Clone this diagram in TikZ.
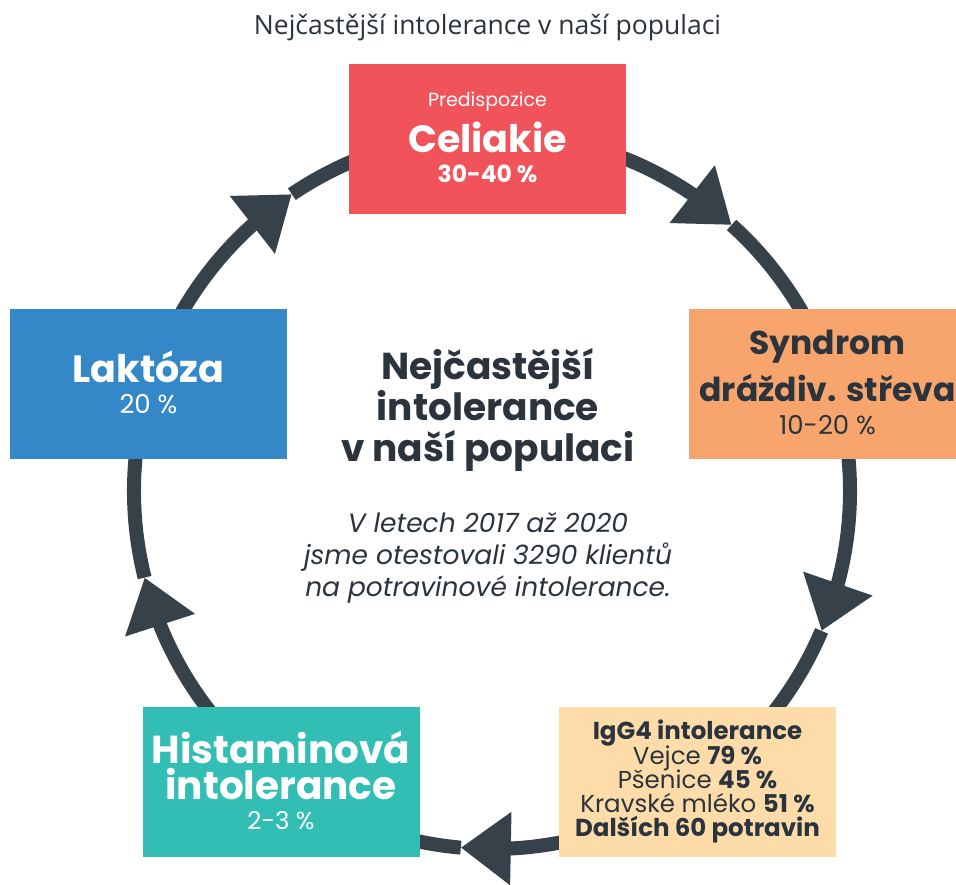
\documentclass[tikz,border=0pt]{standalone}
\usepackage{fontspec}
\setmainfont{Poppins}
\newfontfamily\headfont{Open Sans}
\usetikzlibrary{arrows.meta,bending,positioning}
\lineskiplimit=-50pt

\definecolor{celred}{HTML}{F0545A}
\definecolor{ibsorange}{HTML}{F7A56C}
\definecolor{iggpeach}{HTML}{FDDCA9}
\definecolor{histteal}{HTML}{33BEB5}
\definecolor{lakblue}{HTML}{3488C8}
\definecolor{ringgray}{HTML}{37414A}
\definecolor{textdark}{HTML}{2B343D}

\tikzset{
  ringline/.style={line width=14pt, draw=ringgray, -{Triangle[length=50pt,width=70pt]}},
  tilebox/.style={rectangle, minimum width=277pt, minimum height=150pt, inner sep=0pt},
  tiletext/.style={anchor=base, inner sep=0pt, align=center},
}

\begin{document}
\begin{tikzpicture}[x=1pt,y=1pt]
  \clip (0,0) rectangle (956,885);
  \fill[white] (0,0) rectangle (956,885);

  %Heading
  \node[tiletext, font=\headfont\fontsize{26.5}{30}\selectfont, text=textdark] (heading) at (487.5,850) {Nejčastější intolerance v naší populaci};

  %Ring
  \coordinate (ctr) at (492,394);
  \foreach \a/\b in {124/48,48/-23,-23/-95,-95/-166,-166/-236}
    \draw[ringline] ([shift={(\a:358)}]ctr) arc[start angle=\a, end angle=\b, radius=358];

  %Tiles (multi-line texts sit on their last baseline)
  \node[tilebox, fill=celred] (celiakie) at (487.5,746) {};
  \node[tiletext, font=\fontsize{19}{22}\selectfont, text=white] (celiakie-pre) at ([yshift=32]celiakie.center) {Predispozice};
  \node[tiletext, font=\bfseries\fontsize{38}{44}\selectfont, text=white] (celiakie-name) at ([yshift=-14]celiakie.center) {Celiakie};
  \node[tiletext, font=\bfseries\fontsize{23.5}{26}\selectfont, text=white] (celiakie-pct) at ([yshift=-44]celiakie.center) {30-40 \%};

  \node[tilebox, fill=ibsorange] (syndrom) at (827.5,500.5) {};
  \node[tiletext, font=\bfseries\fontsize{33}{47}\selectfont, text=textdark] (syndrom-name) at ([yshift=-17.5]syndrom.center) {Syndrom\\dráždiv. střeva};
  \node[tiletext, font=\fontsize{26}{28}\selectfont, text=textdark] (syndrom-pct) at ([yshift=-50.5]syndrom.center) {10-20 \%};

  \node[tilebox, fill=iggpeach] (igg) at (697.5,103) {};
  \node[tiletext, font=\fontsize{24.5}{24.3}\selectfont, text=textdark] (igg-list) at ([yshift=-55]igg.center) {\textbf{IgG4 intolerance}\\Vejce \textbf{79 \%}\\Pšenice \textbf{45 \%}\\Kravské mléko \textbf{51 \%}\\\textbf{Dalších 60 potravin}};

  \node[tilebox, fill=histteal] (histamin) at (281,103) {};
  \node[tiletext, font=\bfseries\fontsize{39}{36}\selectfont, text=white] (histamin-name) at ([yshift=-18]histamin.center) {Histaminová\\intolerance};
  \node[tiletext, font=\fontsize{24.5}{26}\selectfont, text=white] (histamin-pct) at ([yshift=-48]histamin.center) {2-3 \%};

  \node[tilebox, fill=lakblue] (laktoza) at (148.5,500.5) {};
  \node[tiletext, font=\bfseries\fontsize{38}{44}\selectfont, text=white] (laktoza-name) at ([yshift=1.5]laktoza.center) {Laktóza};
  \node[tiletext, font=\fontsize{26}{28}\selectfont, text=white] (laktoza-pct) at ([yshift=-29.5]laktoza.center) {20 \%};

  %Centre
  \node[tiletext, font=\bfseries\fontsize{37.5}{41}\selectfont, text=textdark] (centre-title) at (488,423) {Nejčastější\\intolerance\\v naší populaci};
  \node[tiletext, font=\itshape\fontsize{26.5}{32}\selectfont, text=textdark] (centre-note) at (488,288) {V letech 2017 až 2020\\jsme otestovali 3290 klientů\\na potravinové intolerance.};
\end{tikzpicture}
\end{document}
